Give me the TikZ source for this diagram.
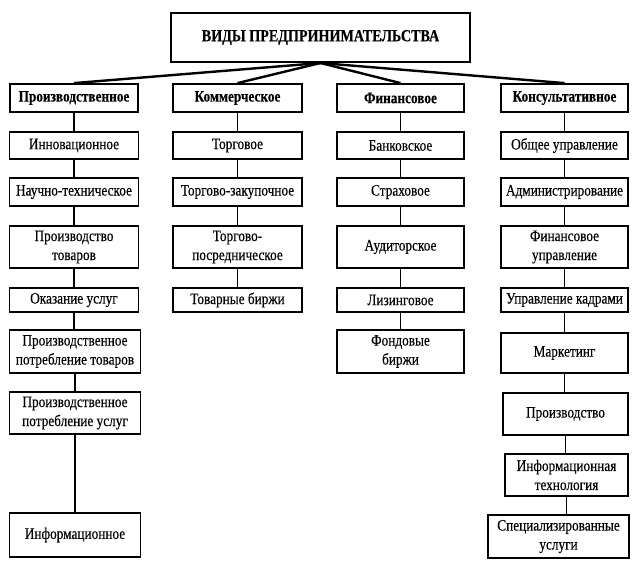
\documentclass[tikz,border=0pt]{standalone}
\usepackage{fontspec}
\setmainfont[FakeStretch=0.83,FakeBold=0.3]{Liberation Serif}
\begin{document}
\begin{tikzpicture}[x=1pt,y=-1pt,
  sz/.style 2 args={minimum width=#1pt, minimum height=#2pt},
  box/.style={draw, line width=1.5pt, align=center, inner sep=1pt, font=\fontsize{16}{19}\selectfont},
  head/.style={box, line width=1.8pt, font=\bfseries\fontsize{16}{19}\selectfont},
  titlebox/.style={box, line width=2pt, font=\bfseries\fontsize{17}{20}\selectfont},
  conn/.style={line width=1.4pt},
  topconn/.style={line width=2.4pt}]
\useasboundingbox (0,0) rectangle (636,572);
% title
\node[titlebox, sz={299}{49}] (t) at (320.5,37.5) {ВИДЫ ПРЕДПРИНИМАТЕЛЬСТВА};
% heads
\node[head, sz={128}{28}] (h1) at (74,98) {Производственное};
\node[head, sz={129}{28}] (h2) at (237.5,98) {Коммерческое};
\node[head, sz={127}{28}] (h3) at (400.5,98) {Финансовое};
\node[head, sz={127}{28}] (h4) at (564.5,98) {Консультативное};
% column 1
\node[box, sz={129}{27}] (a1) at (74,145.5) {Инновационное};
\node[box, sz={129}{28}] (a2) at (74,192) {Научно-техническое};
\node[box, sz={129}{42}] (a3) at (74,247) {Производство\\товаров};
\node[box, sz={129}{24}] (a4) at (74,300) {Оказание услуг};
\node[box, sz={131}{43}] (a5) at (75,351.5) {Производственное\\потребление товаров};
\node[box, sz={131}{42}] (a6) at (75,413) {Производственное\\потребление услуг};
\node[box, sz={131}{44}] (a7) at (75,535) {Информационное};
% column 2
\node[box, sz={129}{27}] (b1) at (237.5,145.5) {Торговое};
\node[box, sz={129}{28}] (b2) at (237.5,192) {Торгово-закупочное};
\node[box, sz={129}{42}] (b3) at (237.5,247) {Торгово-\\посредническое};
\node[box, sz={129}{24}] (b4) at (237.5,300) {Товарные биржи};
% column 3
\node[box, sz={127}{27}] (c1) at (400.5,145.5) {Банковское};
\node[box, sz={127}{28}] (c2) at (400.5,192) {Страховое};
\node[box, sz={127}{42}] (c3) at (400.5,247) {Аудиторское};
\node[box, sz={127}{24}] (c4) at (400.5,300) {Лизинговое};
\node[box, sz={127}{43}] (c5) at (400.5,351.5) {Фондовые\\биржи};
% column 4
\node[box, sz={127}{27}] (d1) at (564.5,145.5) {Общее управление};
\node[box, sz={127}{28}] (d2) at (564.5,192) {Администрирование};
\node[box, sz={127}{42}] (d3) at (564.5,247) {Финансовое\\управление};
\node[box, sz={127}{24}] (d4) at (564.5,300) {Управление кадрами};
\node[box, sz={127}{40}] (d5) at (564.5,353) {Маркетинг};
\node[box, sz={125}{42}] (d6) at (565.5,414) {Производство};
\node[box, sz={123}{42}] (d7) at (566.5,475) {Информационная\\технология};
\node[box, sz={141}{43}] (d8) at (558.5,536.5) {Специализированные\\услуги};
% top connectors
\foreach \h in {h1,h2,h3,h4} \draw[topconn] (t.south) -- (\h.north);
% vertical connectors
\foreach \u/\v in {h1/a1,a1/a2,a2/a3,a3/a4,a4/a5,a5/a6,a6/a7,
                   h2/b1,b1/b2,b2/b3,b3/b4,
                   h3/c1,c1/c2,c2/c3,c3/c4,c4/c5,
                   h4/d1,d1/d2,d2/d3,d3/d4,d4/d5,d5/d6,d6/d7,d7/d8}
  \draw[conn] (\u.south) -- (\u.south |- \v.north);
\end{tikzpicture}
\end{document}
